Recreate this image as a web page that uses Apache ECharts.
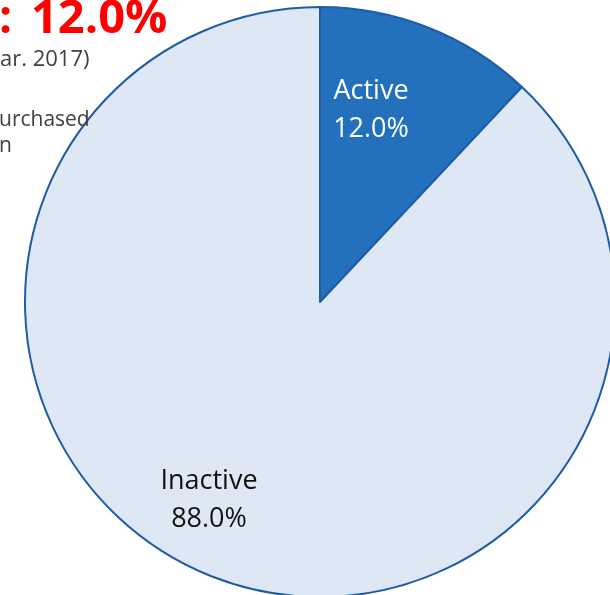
<!DOCTYPE html>
<html>
<head>
<meta charset="utf-8">
<script src="https://cdn.jsdelivr.net/npm/echarts@6/dist/echarts.min.js"></script>
<style>
html,body{margin:0;padding:0;background:#fff;}
#chart{width:610px;height:595px;}
</style>
</head>
<body>
<div id="chart"></div>
<script>
const categories = ['Active', 'Inactive'];
const values = [12.0, 88.0];
const sliceColors = ['#2370BD', '#DEE8F4'];
const labelColors = ['#FFFFFF', '#111111'];

const chart = echarts.init(document.getElementById('chart'), null, {renderer: 'canvas'});
const FONT = '"Open Sans", "Noto Sans", sans-serif';

const labelPos = [[371, 110], [209, 500]];

// baseline-positioned text fragment (top-aligned box, baseline ≈ top + 0.77em)
function frag(text, x, baseline, size, color, weight) {
  return {type: 'text', z: 100, x: x, y: baseline - Math.round(size * 0.77),
    style: {text: text, fill: color, fontSize: size, fontWeight: weight || 'normal', fontFamily: FONT, verticalAlign: 'top'}};
}

chart.setOption({
  animation: false,
  graphic: [
    frag(':', -1, 32, 46, '#FF0000', 'bold'),
    frag('12.0%', 31, 32, 47, '#FF0000', 'bold'),
    frag('ar. 2017)', 0, 66, 22, '#404040'),
    frag('urchased', -1, 126, 21, '#404040'),
    frag('n', -1, 152, 21, '#404040')
  ],
  series: [{
    type: 'pie',
    center: [320, 302],
    radius: [0, 295],
    startAngle: 90,
    clockwise: true,
    silent: true,
    data: categories.map((c, i) => ({
      name: c,
      value: values[i],
      itemStyle: {color: sliceColors[i]},
      label: {color: labelColors[i]}
    })),
    itemStyle: {borderColor: '#1F5CA5', borderWidth: 2},
    label: {
      show: true,
      position: 'inside',
      formatter: p => p.name + '\n' + p.value.toFixed(1) + '%',
      fontFamily: FONT,
      fontSize: 27,
      lineHeight: 38,
      align: 'center',
      verticalAlign: 'middle'
    },
    labelLine: {show: false},
    labelLayout: p => ({x: labelPos[p.dataIndex][0], y: labelPos[p.dataIndex][1], align: 'center', verticalAlign: 'middle'})
  }]
});
</script>
</body>
</html>
